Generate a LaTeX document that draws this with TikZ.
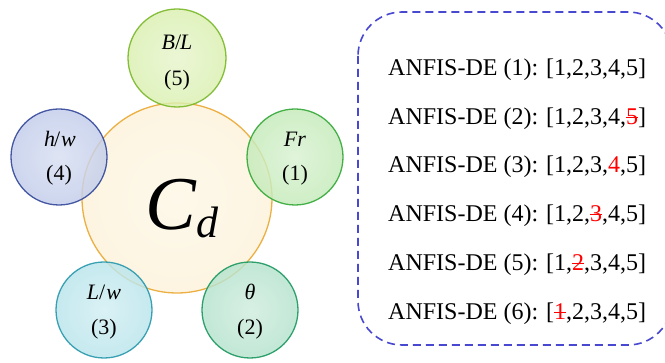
\documentclass[tikz,border=0pt]{standalone}
\usepackage{fontspec}
\setmainfont{Liberation Serif}
\usetikzlibrary{calc}
\definecolor{bigE}{HTML}{EAA830}\definecolor{bigF}{HTML}{F8D888}
\definecolor{blE}{HTML}{7AB828}\definecolor{blF}{HTML}{BCE470}
\definecolor{frE}{HTML}{34A838}\definecolor{frF}{HTML}{94DA80}
\definecolor{hwE}{HTML}{34489A}\definecolor{hwF}{HTML}{90A4DA}
\definecolor{lwE}{HTML}{2898AC}\definecolor{lwF}{HTML}{80D0DC}
\definecolor{thE}{HTML}{1C9860}\definecolor{thF}{HTML}{78CCA4}
\definecolor{boxblue}{HTML}{4848D0}
\newcommand\strk[1]{\textcolor{red}{\ooalign{#1\cr\hidewidth\rule[0.27em]{0.48em}{0.055em}\hidewidth\cr}}}
\tikzset{
  lbl/.style={font=\fontsize{22}{24}\selectfont, inner sep=0pt},
  row/.style={font=\fontsize{24}{28}\selectfont, anchor=west, inner sep=0pt},
}
\newcommand\bubble[5]{%
  \pgfdeclareradialshading{bub#4}{\pgfpoint{0bp}{0bp}}{color(0bp)=(white!65!#4); color(25bp)=(white!45!#4); color(42bp)=(white!15!#4); color(48bp)=(#4); color(50bp)=(#4)}%
  \shade[shading=bub#4, opacity=0.82] (#1,#2) circle[radius=#3];
  \draw[#5, line width=1.3pt, opacity=0.9] (#1,#2) circle[radius=#3];
}
\begin{document}
\begin{tikzpicture}[x=1pt,y=-1pt]
\useasboundingbox (0,0) rectangle (665,363);
\clip (0,0) rectangle (665,363);
\fill[white] (0,0) rectangle (665,363);
% bubbles
\pgfdeclareradialshading{bigshade}{\pgfpoint{0bp}{0bp}}{color(0bp)=(white!80!bigF); color(30bp)=(white!70!bigF); color(42bp)=(white!35!bigF); color(48bp)=(bigF); color(50bp)=(bigF)}
\shade[shading=bigshade, opacity=0.85] (177,198) circle[radius=95];
\draw[bigE, line width=1.3pt, opacity=0.9] (177,198) circle[radius=95];
\bubble{177}{58}{49}{blF}{blE}
\bubble{295}{157}{48}{frF}{frE}
\bubble{59}{157}{48}{hwF}{hwE}
\bubble{104}{310}{48}{lwF}{lwE}
\bubble{250}{310}{48}{thF}{thE}
% center label
\node[inner sep=0pt] (cd) at (182,209) {\fontsize{76}{80}\selectfont\textit{C}\kern-1pt\raisebox{-8pt}{\fontsize{44}{46}\selectfont\textit{d}}};
% small labels
\node[lbl] (bl) at (177,42) {\textit{B}/\kern-1pt\textit{L}};
\node[lbl] (bl5) at (177,80) {(5)};
\node[lbl] (fr) at (295,139) {\textit{Fr}};
\node[lbl] (fr1) at (295,175) {(1)};
\node[lbl] (hw) at (60,139) {\textit{h}\kern-1pt/\kern1pt\textit{w}};
\node[lbl] (hw4) at (59,175) {(4)};
\node[lbl] (lw) at (104,292) {\textit{L}/\kern1pt\textit{w}};
\node[lbl] (lw3) at (104,329) {(3)};
\node[lbl] (th) at (250,292) {\textit{θ}};
\node[lbl] (th2) at (250,329) {(2)};
% dashed box
\draw[boxblue, line width=1.6pt, dash pattern=on 8pt off 5pt, rounded corners=44pt] (358,12) rectangle (672,345);
% rows
\node[row] (r1) at (388,70) {ANFIS-DE (1): [1,2,3,4,5]};
\node[row] (r2) at (388,119) {ANFIS-DE (2): [1,2,3,4,\strk{5}]};
\node[row] (r3) at (388,167) {ANFIS-DE (3): [1,2,3,\textcolor{red}{4},5]};
\node[row] (r4) at (388,216) {ANFIS-DE (4): [1,2,\strk{3},4,5]};
\node[row] (r5) at (388,265) {ANFIS-DE (5): [1,\strk{2},3,4,5]};
\node[row] (r6) at (388,314) {ANFIS-DE (6): [\strk{1},2,3,4,5]};
\end{tikzpicture}
\end{document}
